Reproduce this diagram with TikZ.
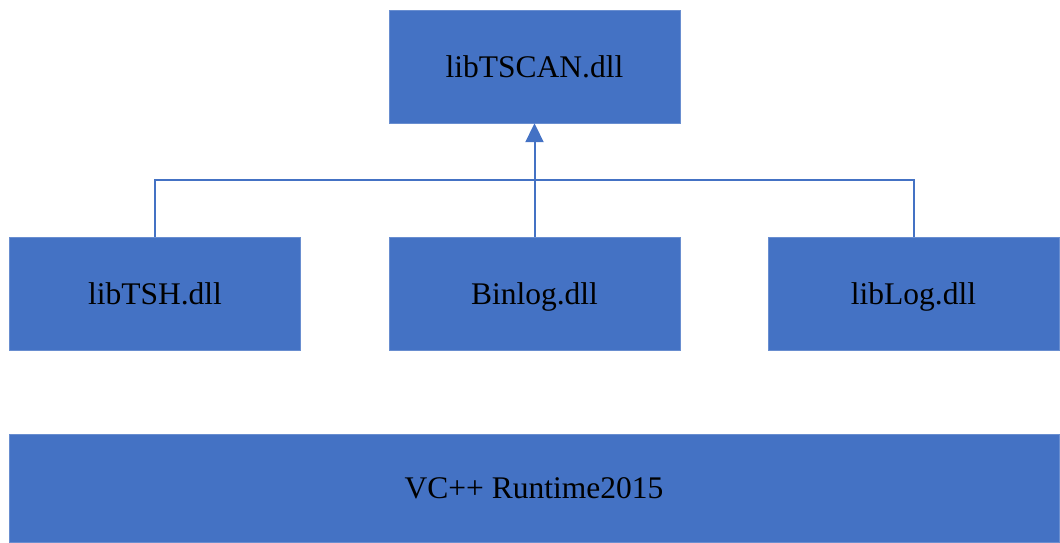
\documentclass[tikz,border=0pt]{standalone}
\usepackage{fontspec}
\setmainfont{Liberation Serif}
\usetikzlibrary{arrows.meta}
\definecolor{dllblue}{HTML}{4472C4}
\begin{document}
\begin{tikzpicture}[x=1pt,y=-1pt,
  dllbox/.style={fill=dllblue,draw=dllblue!80!white,thin,minimum width=291pt,minimum height=113pt,inner sep=0pt,text height=24pt,text depth=3pt,font=\fontsize{31.5}{36}\selectfont},
  link/.style={color=dllblue,line width=2pt}]
\useasboundingbox (0,0) rectangle (1060,542);
\node [dllbox] (tscan) at (534.5,66.5) {libTSCAN.dll};
\node [dllbox] (tsh) at (155,293.5) {libTSH.dll};
\node [dllbox] (binlog) at (534.5,293.5) {Binlog.dll};
\node [dllbox] (liblog) at (913.5,293.5) {libLog.dll};
\node [dllbox,minimum width=1050pt,minimum height=108pt] (runtime) at (534,488) {VC++ Runtime2015};
\coordinate (bus) at (534.5,180);
\draw [link,-{Triangle[width=18pt,length=19pt]}](binlog.north) -- (tscan.south);
\draw [link](tsh.north) |- (bus) -| (liblog.north);
\end{tikzpicture}
\end{document}
